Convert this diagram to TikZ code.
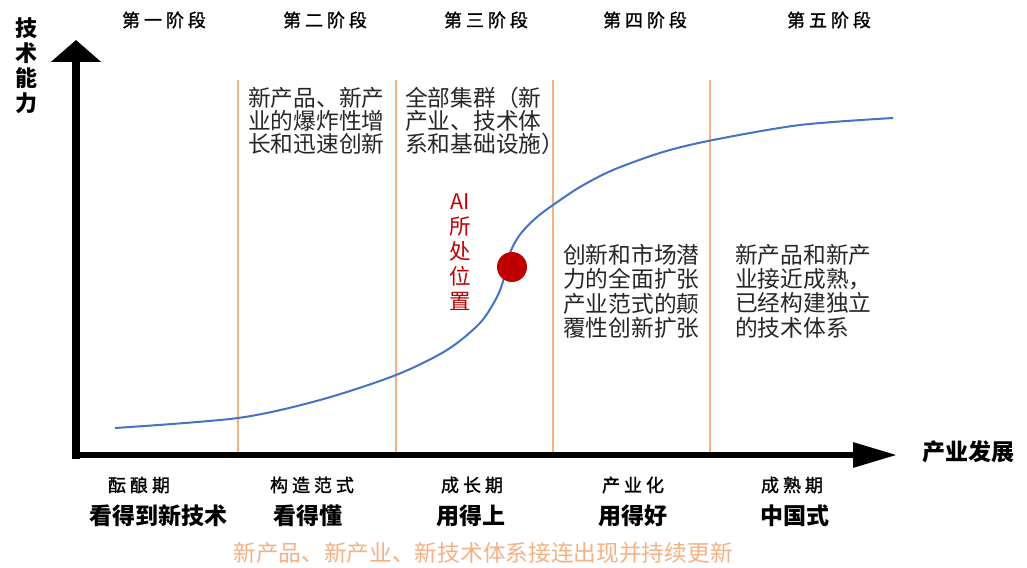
\documentclass[tikz,border=0pt]{standalone}
\usepackage{fontspec}
\setmainfont{Noto Sans CJK SC}
\newfontfamily\stagefont[LetterSpace=22,FakeBold=1.3]{Noto Sans CJK SC}
\usetikzlibrary{arrows.meta}
\definecolor{orng}{HTML}{F4B183}
\definecolor{blu}{HTML}{4472C4}
\definecolor{aired}{HTML}{C00000}
\definecolor{txt}{HTML}{262626}
\tikzset{
  stagelbl/.style={font=\stagefont\fontsize{18}{18}\selectfont, text=black, inner sep=0pt},
  goal/.style={font=\bfseries\fontsize{23}{23}\selectfont, text=black, inner sep=0pt},
  desc/.style={font=\fontsize{22.7}{24}\selectfont, text=txt, align=left, anchor=north west, inner sep=0pt},
  divider/.style={draw=orng, line width=1.6pt},
  curve/.style={draw=blu, line width=2pt},
}
\begin{document}
\begin{tikzpicture}[x=1pt,y=-1pt]
\useasboundingbox (0,0) rectangle (1027,567);
% dividers
\foreach \i/\x in {1/238,2/396,3/553,4/710}{
  \coordinate (d\i t) at (\x,80);
  \coordinate (d\i b) at (\x,455);
  \draw[divider] (d\i t) -- (d\i b);
}
% axes
\coordinate (ybot) at (76,459);
\coordinate (ytip) at (76,40);
\coordinate (xleft) at (72,455);
\coordinate (xtip) at (897,455);
\draw[line width=8pt, -{Triangle[length=22pt,width=49pt]}] (ybot) -- (ytip);
\draw[line width=6pt, -{Triangle[length=44pt,width=24pt]}] (xleft) -- (xtip);
% curve
\draw[curve] plot[smooth, tension=0.5] coordinates {(115,428) (238,418) (320,400) (396,375) (447,350) (480,323) (497,297) (504,278) (507,262) (513,246) (522,232) (537,217) (553,205) (580,187) (613,170) (663,152) (713,140) (800,125) (893,118)};
\node[circle, fill=aired, minimum size=30pt, inner sep=0pt] (dot) at (512,267) {};
% stage labels
\node[stagelbl] (s1) at (164,20) {第一阶段};
\node[stagelbl] (s2) at (325,20) {第二阶段};
\node[stagelbl] (s3) at (486,20) {第三阶段};
\node[stagelbl] (s4) at (645,20) {第四阶段};
\node[stagelbl] (s5) at (829,20) {第五阶段};
% axis labels
\node[goal, align=center, font=\bfseries\fontsize{22}{25}\selectfont] (ylab) at (27,66) {技\\术\\能\\力};
\node[goal] (xlab) at (968,452) {产业发展};
% phase labels
\node[stagelbl] (p1) at (139,485) {酝酿期};
\node[stagelbl] (p2) at (312,485) {构造范式};
\node[stagelbl] (p3) at (472,485) {成长期};
\node[stagelbl] (p4) at (633,485) {产业化};
\node[stagelbl] (p5) at (792,485) {成熟期};
\node[goal] (g1) at (158,516) {看得到新技术};
\node[goal] (g2) at (308,516) {看得懂};
\node[goal] (g3) at (471,516) {用得上};
\node[goal] (g4) at (633,516) {用得好};
\node[goal] (g5) at (795,516) {中国式};
% descriptions
\node[desc, font=\fontsize{22.7}{23}\selectfont] (b1) at (248,87) {新产品、新产\\业的爆炸性增\\长和迅速创新};
\node[desc, font=\fontsize{22.7}{23}\selectfont] (b2) at (405,87) {全部集群（新\\产业、技术体\\系和基础设施）};
\node[desc, font=\fontsize{22.7}{24.3}\selectfont] (b3) at (563,244) {创新和市场潜\\力的全面扩张\\产业范式的颠\\覆性创新扩张};
\node[desc, font=\fontsize{22.7}{24.3}\selectfont] (b4) at (735,244) {新产品和新产\\业接近成熟，\\已经构建独立\\的技术体系};
\node[align=center, text=aired, inner sep=0pt, font=\fontsize{21.5}{25}\selectfont] (ai) at (460,252) {AI\\所\\处\\位\\置};
% footer
\node[text=orng, inner sep=0pt, font=\fontsize{22.7}{23}\selectfont] (foot) at (483,553) {新产品、新产业、新技术体系接连出现并持续更新};
\end{tikzpicture}
\end{document}
